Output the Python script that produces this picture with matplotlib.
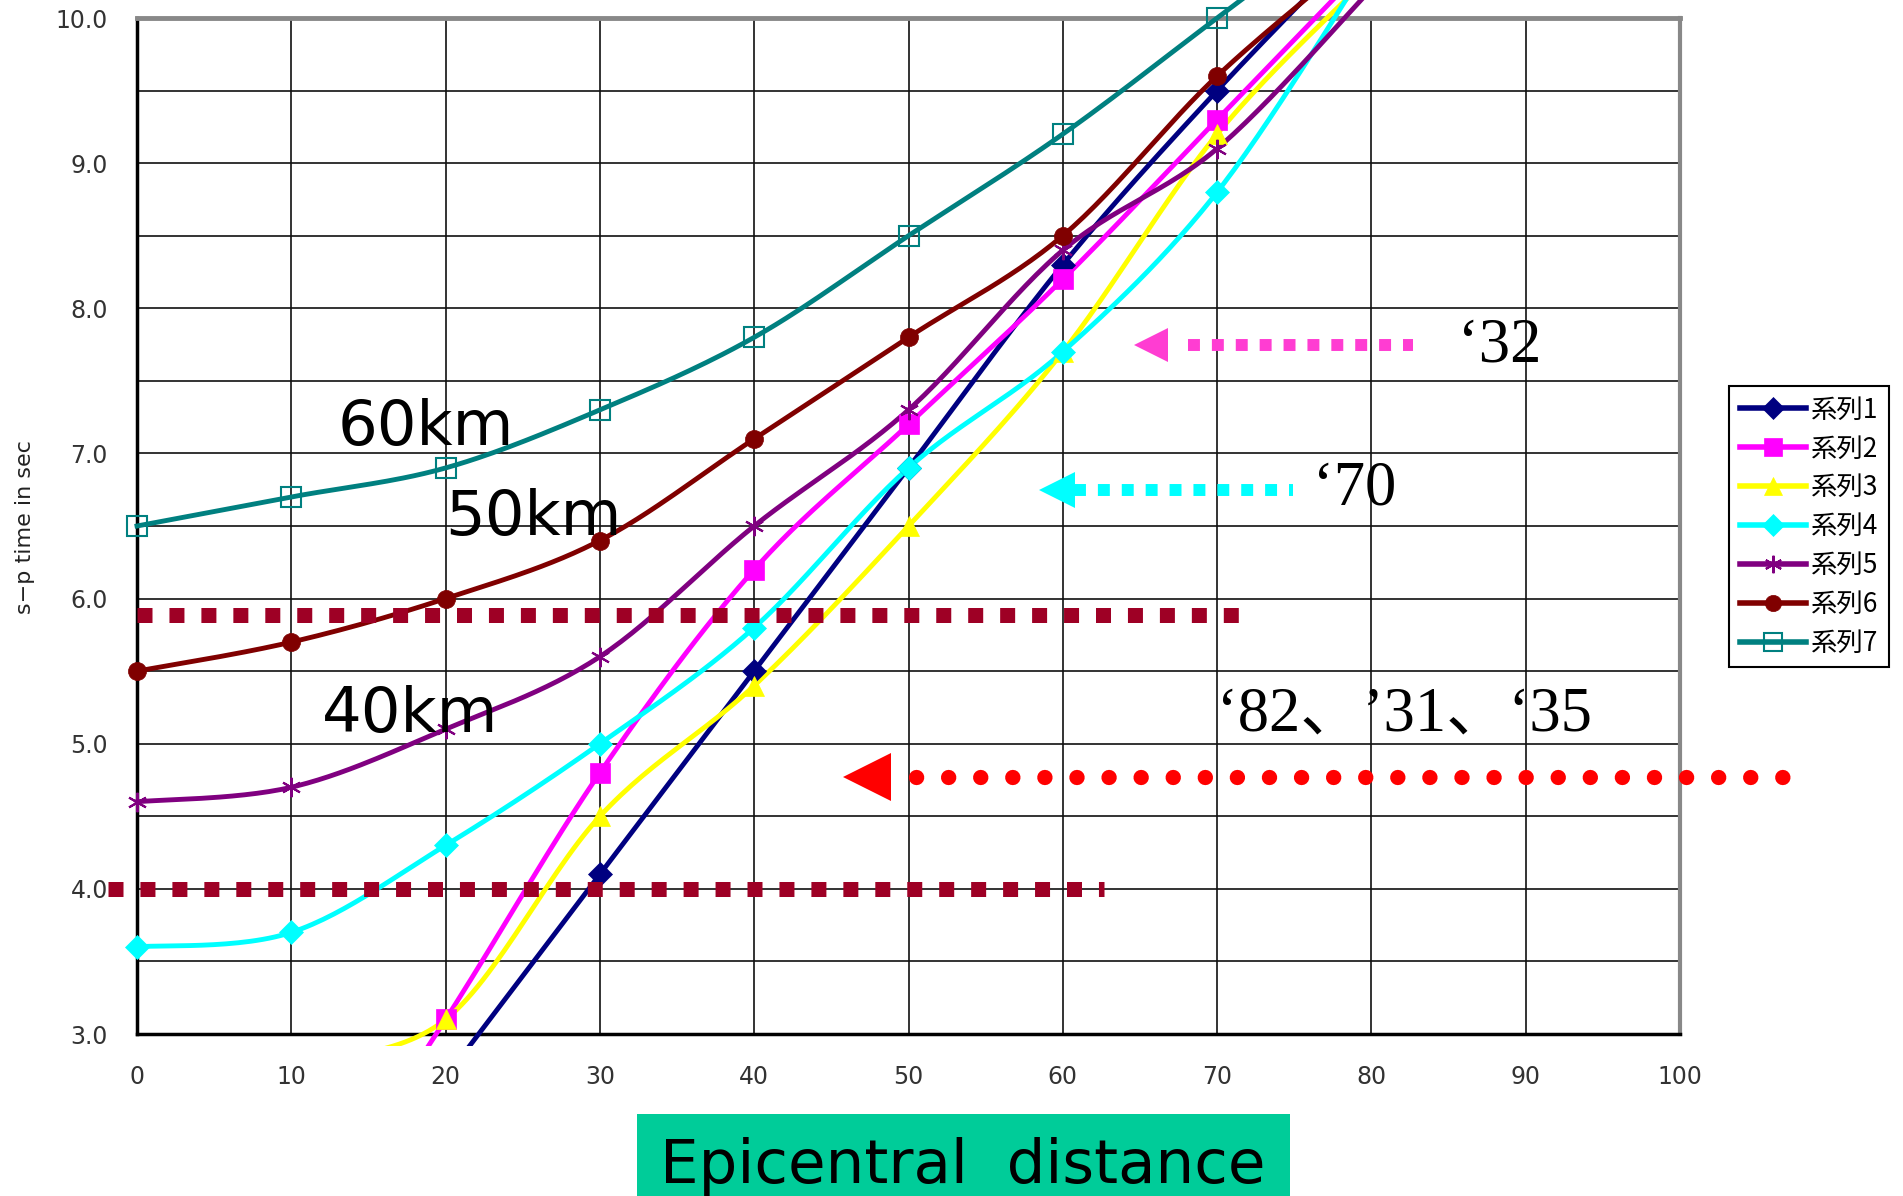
import numpy as np
import matplotlib
matplotlib.use("Agg")
import matplotlib.pyplot as plt
from matplotlib.lines import Line2D
from matplotlib.patches import Rectangle

# epicentral distance (km)
dist = [0, 10, 20, 30, 40, 50, 60, 70, 80]

# s-p time (sec); nan = not drawn
s1 = [np.nan, np.nan, 2.7, 4.1, 5.5, 6.9, 8.3, 9.5, 10.6]
s2 = [np.nan, 1.5, 3.1, 4.8, 6.2, 7.2, 8.2, 9.3, 10.4]
s3 = [np.nan, 2.8, 3.1, 4.5, 5.4, 6.5, 7.7, 9.2, 10.3]
s4 = [3.6, 3.7, 4.3, 5.0, 5.8, 6.9, 7.7, 8.8, 10.4]
s5 = [4.6, 4.7, 5.1, 5.6, 6.5, 7.3, 8.4, 9.1, 10.2]
s6 = [5.5, 5.7, 6.0, 6.4, 7.1, 7.8, 8.5, 9.6, 10.5]
s7 = [6.5, 6.7, 6.9, 7.3, 7.8, 8.5, 9.2, 10.0, 10.8]

names = ["系列1", "系列2", "系列3", "系列4", "系列5", "系列6", "系列7"]
colors = ["#000080", "#FF00FF", "#FFFF00", "#00FFFF", "#800080", "#800000", "#008080"]
markers = ["D", "s", "^", "D", (6, 2, 0), "o", "s"]
msizes = [12, 14, 15, 12, 14, 13, 15]

xticks = [0, 10, 20, 30, 40, 50, 60, 70, 80, 90, 100]
yticks = [3.0, 4.0, 5.0, 6.0, 7.0, 8.0, 9.0, 10.0]


def smooth(x, y, n=30):
    # excel style smoothed line (bezier with 1/6 tangents)
    x = np.asarray(x, float)
    y = np.asarray(y, float)
    ok = ~np.isnan(y)
    x, y = x[ok], y[ok]
    px = np.concatenate([[x[0]], x, [x[-1]]])
    py = np.concatenate([[y[0]], y, [y[-1]]])
    t = np.linspace(0, 1, n)
    ox, oy = [], []
    for i in range(1, len(px) - 2):
        p0 = np.array([px[i], py[i]])
        p3 = np.array([px[i + 1], py[i + 1]])
        p1 = p0 + (p3 - np.array([px[i - 1], py[i - 1]])) / 6
        p2 = p3 - (np.array([px[i + 2], py[i + 2]]) - p0) / 6
        b = ((1 - t) ** 3)[:, None] * p0 + (3 * (1 - t) ** 2 * t)[:, None] * p1 \
            + (3 * (1 - t) * t ** 2)[:, None] * p2 + (t ** 3)[:, None] * p3
        ox.extend(b[:, 0])
        oy.extend(b[:, 1])
    return ox, oy


def clip_to(artist, patch):
    artist.set_clip_on(True)
    artist.set_clip_box(None)
    artist.set_clip_path(patch)


fig = plt.figure(figsize=(19.03, 11.96), dpi=100)
ax = fig.add_axes([137 / 1903, 1 - 1034 / 1196, 1543 / 1903, 1016 / 1196])
ax.set_xlim(0, 100)
ax.set_ylim(3, 10)

ax.set_xticks(xticks)
ax.set_yticks(yticks)
ax.set_yticks(np.arange(3, 10.01, 0.5), minor=True)
ax.set_yticklabels(["%.1f" % v for v in yticks])
ax.grid(True, which="both", color="#111111", lw=1.2)
ax.set_axisbelow(True)
ax.tick_params(which="both", length=0)
ax.tick_params(axis="y", pad=21)
ax.tick_params(axis="x", pad=22)
for lab in ax.get_xticklabels() + ax.get_yticklabels():
    lab.set_fontsize(17)
    lab.set_color("#333333")

ax.spines["left"].set_color("black")
ax.spines["bottom"].set_color("black")
ax.spines["left"].set_linewidth(2.5)
ax.spines["bottom"].set_linewidth(2.5)
ax.spines["top"].set_color("#888888")
ax.spines["right"].set_color("#888888")
ax.spines["top"].set_linewidth(3.5)
ax.spines["right"].set_linewidth(3)

# plot area: lines run a little past the bottom axis and up to the image top
clip = Rectangle((-5, 2.92), 120, 9, transform=ax.transData, fill=False, visible=False)
ax.add_patch(clip)

series = [s1, s2, s3, s4, s5, s6, s7]
handles = []
for s, c, m, ms, nm in zip(series, colors, markers, msizes, names):
    sx, sy = smooth(dist, s)
    ln, = ax.plot(sx, sy, color=c, lw=3.5, zorder=3)
    clip_to(ln, clip)
    open_mk = nm == "系列7"
    star = nm == "系列5"
    mk, = ax.plot(dist, s, ls="none", marker=m, ms=ms, color=c,
                  mfc="none" if open_mk else c, mec=c,
                  mew=1.5 if (open_mk or star) else 0.5, zorder=4)
    clip_to(mk, clip)
    handles.append(Line2D([], [], color=c, lw=4, marker=m, ms=ms * 0.9,
                          mfc="none" if open_mk else c, mec=c,
                          mew=1.5 if (open_mk or star) else 0.5))

# depth labels
for txt, x, y in [("60km", 13.0, 7.06), ("50km", 20.0, 6.44), ("40km", 12.0, 5.08)]:
    ax.text(x, y, txt, fontsize=45, family="DejaVu Sans", ha="left", va="baseline", zorder=6)

# dark red dotted reference lines
ax.plot([0, 71.5], [5.89, 5.89], color="#9E0025", lw=10.8, ls=(0, (1, 1.13)),
        dash_capstyle="butt", zorder=5, clip_on=False)
ax.plot([-1.9, 62.7], [4.0, 4.0], color="#9E0025", lw=10.8, ls=(0, (1, 1.13)),
        dash_capstyle="butt", zorder=5, clip_on=False)

# arrows
ax.plot([68.1, 82.7], [7.75, 7.75], color="#FF3DD2", lw=8.6, ls=(0, (1, 1)),
        dash_capstyle="butt", zorder=5, clip_on=False)
ax.plot([65.7], [7.75], marker="<", ms=25, color="#FF3DD2", mew=0, zorder=5, clip_on=False)
ax.plot([60.7, 74.9], [6.75, 6.75], color="#00FFFF", lw=8.6, ls=(0, (1, 1)),
        dash_capstyle="butt", zorder=5, clip_on=False)
ax.plot([59.6], [6.75], marker="<", ms=26, color="#00FFFF", mew=0, zorder=5, clip_on=False)
ax.plot([50.5, 108.5], [4.77, 4.77], color="#FF0000", lw=11, ls=(0, (0.01, 2.09)),
        dash_capstyle="round", zorder=5, clip_on=False)
ax.plot([47.3], [4.77], marker="<", ms=34, color="#FF0000", mew=0, zorder=5, clip_on=False)

serif = ["Liberation Serif", "Noto Sans CJK JP"]
ax.text(85.6, 7.63, "\u201832", fontsize=45, family=serif, va="baseline", zorder=6, clip_on=False)
ax.text(76.2, 6.65, "\u201870", fontsize=45, family=serif, va="baseline", zorder=6)
ax.text(70.0, 5.09, "\u201882、\u201931、\u201835", fontsize=45, family=serif,
        va="baseline", zorder=6, clip_on=False)

fig.text(25 / 1903, 1 - 527 / 1196, "s\u2212p time in sec", rotation=90, fontsize=16,
         ha="center", va="center", color="#222222")

leg = fig.legend(handles, names, loc="upper left", bbox_to_anchor=(1729 / 1903, 1 - 386 / 1196),
                 prop={"family": ["Noto Sans CJK JP", "DejaVu Sans"], "size": 19},
                 frameon=True, fancybox=False, framealpha=1, edgecolor="black",
                 handlelength=2.5, labelspacing=0.45, borderpad=0.4, handletextpad=0.2,
                 borderaxespad=0)
leg.get_frame().set_linewidth(1.5)

fig.patches.append(Rectangle((637 / 1903, 0), (1290 - 637) / 1903, 82 / 1196,
                             transform=fig.transFigure, facecolor="#00CC99", edgecolor="none"))
fig.text(963 / 1903, 13 / 1196, "Epicentral  distance", fontsize=44, family="DejaVu Sans",
         ha="center", va="baseline")

fig.savefig("out.png", dpi=100)
